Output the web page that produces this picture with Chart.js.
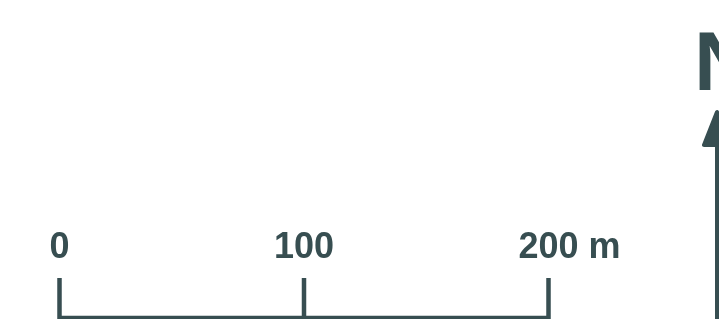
<!DOCTYPE html>
<html>
<head>
<meta charset="utf-8">
<script src="https://cdn.jsdelivr.net/npm/chart.js@4/dist/chart.umd.min.js"></script>
<style>
    html, body { margin: 0; padding: 0; background: #ffffff; }
    canvas { display: block; }
</style>
</head>
<body>
<canvas id="scale-chart" width="719" height="319"></canvas>
<script>
// Scale bar data
const distances = [0, 100, 200];
const tickLabels = ['0', '100', '200'];
const unit = 'm';
const northLabel = 'N';

const INK = '#374e51';

// Build the bar outline: left tick, base line, right tick
const first = distances[0];
const last = distances[distances.length - 1];
const barOutline = [
    { x: first, y: 1 },
    { x: first, y: 0 },
    { x: last, y: 0 },
    { x: last, y: 1 }
];
// Inner ticks
const innerTicks = distances.slice(1, -1).map(d => [{ x: d, y: 0 }, { x: d, y: 1 }]);

const lineStyle = {
    borderColor: INK,
    borderWidth: 4.5,
    borderJoinStyle: 'miter',
    borderCapStyle: 'butt',
    showLine: true,
    pointRadius: 0,
    tension: 0,
    clip: false
};

// Labels above ticks + north arrow
const scaleLabels = {
    id: 'scaleLabels',
    afterDatasetsDraw(chart) {
        const ctx = chart.ctx;
        const xs = chart.scales.x;
        ctx.save();
        ctx.fillStyle = INK;
        ctx.font = 'bold 36px "Liberation Sans", Arial, sans-serif';
        ctx.textBaseline = 'alphabetic';
        distances.forEach((d, i) => {
            const px = xs.getPixelForValue(d);
            const txt = tickLabels[i];
            const w = ctx.measureText(txt).width;
            ctx.textAlign = 'left';
            ctx.fillText(txt, px - w / 2, 258);
            if (i === distances.length - 1) {
                ctx.fillText(' ' + unit, px + w / 2, 258);
            }
        });

        // North arrow at right edge
        const ax = 717;
        ctx.font = 'bold 84px "Liberation Sans", Arial, sans-serif';
        ctx.fillText(northLabel, 694, 90);

        ctx.strokeStyle = INK;
        ctx.lineWidth = 4;
        ctx.beginPath();
        ctx.moveTo(ax, 140);
        ctx.lineTo(ax, 319);
        ctx.stroke();

        ctx.lineJoin = 'round';
        ctx.lineWidth = 4;
        ctx.beginPath();
        ctx.moveTo(ax, 112);
        ctx.lineTo(ax - 13, 145);
        ctx.lineTo(ax + 13, 145);
        ctx.closePath();
        ctx.fill();
        ctx.stroke();
        ctx.restore();
    }
};

const datasets = [Object.assign({ data: barOutline }, lineStyle)]
    .concat(innerTicks.map(t => Object.assign({ data: t }, lineStyle)));

new Chart(document.getElementById('scale-chart'), {
    type: 'scatter',
    data: { datasets: datasets },
    options: {
        responsive: false,
        animation: false,
        devicePixelRatio: 1,
        layout: {
            padding: { left: 59.5, right: 170.5, top: 278, bottom: 1 }
        },
        scales: {
            x: { type: 'linear', min: first, max: last, display: false },
            y: { type: 'linear', min: 0, max: 1, display: false }
        },
        plugins: {
            legend: { display: false },
            tooltip: { enabled: false }
        }
    },
    plugins: [scaleLabels]
});
</script>
</body>
</html>
